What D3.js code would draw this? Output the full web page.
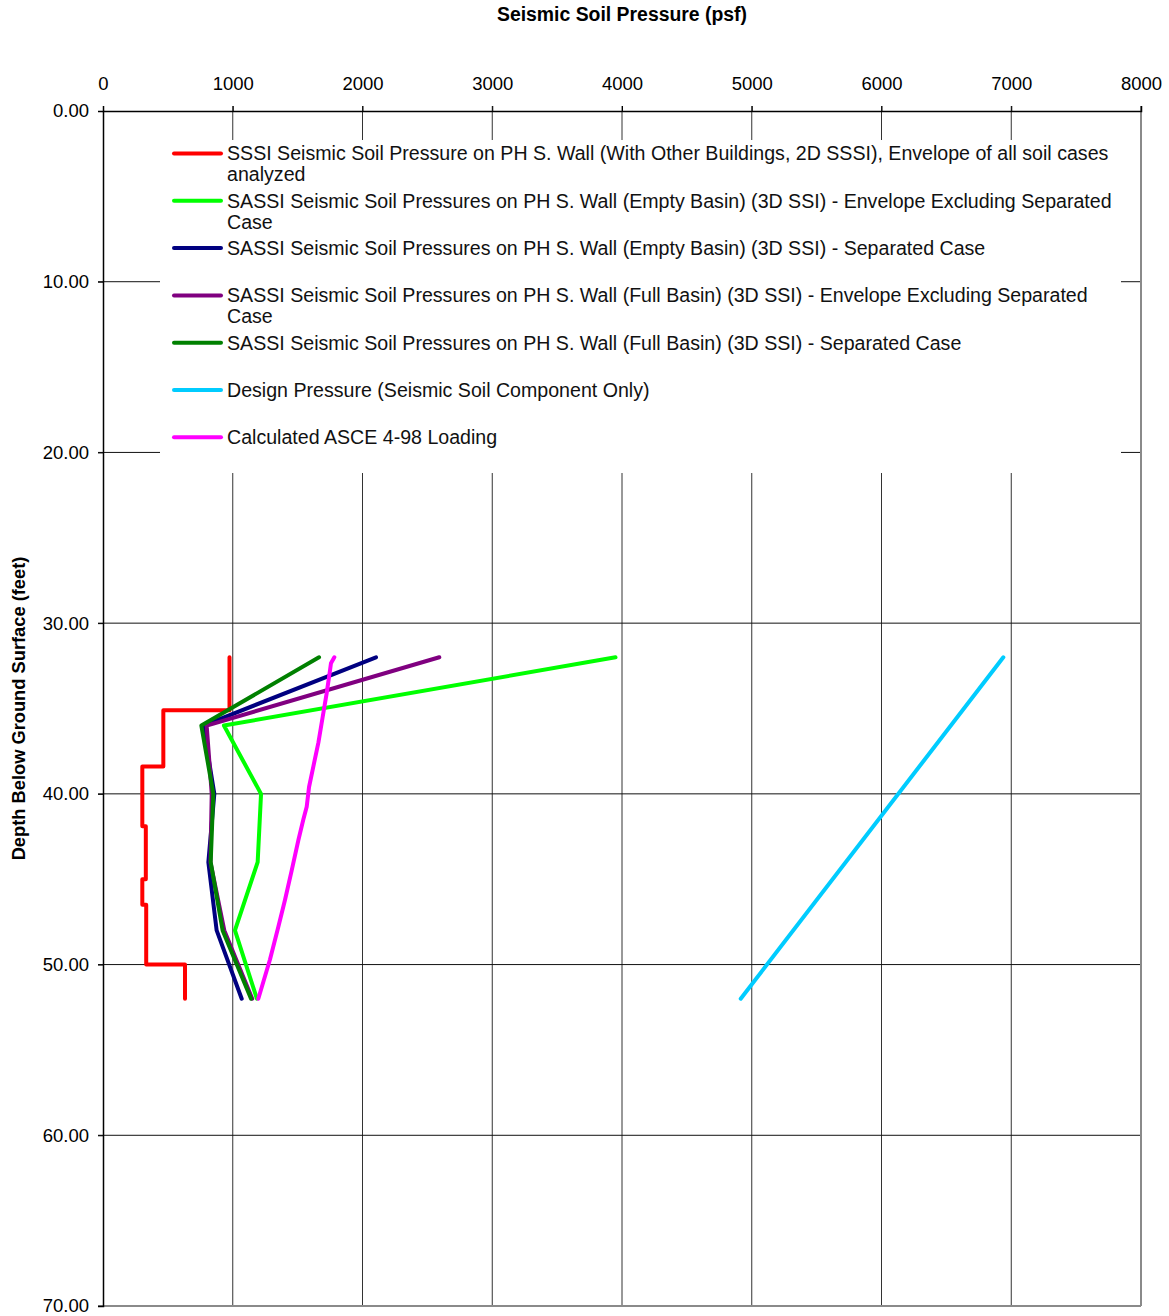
<!DOCTYPE html>
<html>
<head>
<meta charset="utf-8">
<script src="https://cdn.jsdelivr.net/npm/d3@7/dist/d3.min.js"></script>
<style>
  html, body { margin: 0; padding: 0; background: #fff; }
  svg { display: block; font-family: "Liberation Sans", Arial, sans-serif; }
</style>
</head>
<body>
<svg id="chart" width="1169" height="1316"></svg>
<script>
// ---- data ----
const xTicks = [0, 1000, 2000, 3000, 4000, 5000, 6000, 7000, 8000];
const yTicks = [0, 10, 20, 30, 40, 50, 60, 70];

const seriesNames = [
  "SSSI Seismic Soil Pressure on PH S. Wall (With Other Buildings, 2D SSSI), Envelope of all soil cases\nanalyzed",
  "SASSI Seismic Soil Pressures on PH S. Wall (Empty Basin) (3D SSI) - Envelope Excluding Separated\nCase",
  "SASSI Seismic Soil Pressures on PH S. Wall (Empty Basin) (3D SSI) - Separated Case",
  "SASSI Seismic Soil Pressures on PH S. Wall (Full Basin) (3D SSI) - Envelope Excluding Separated\nCase",
  "SASSI Seismic Soil Pressures on PH S. Wall (Full Basin) (3D SSI) - Separated Case",
  "Design Pressure (Seismic Soil Component Only)",
  "Calculated ASCE 4-98 Loading"
];
const seriesColors = ["#FF0000", "#00FF00", "#000080", "#800080", "#008000", "#00CCFF", "#FF00FF"];

// [pressure (psf), depth (ft)]
const sssiWithBuildings = [
  [975, 32], [975, 35.1], [465, 35.1], [465, 38.4], [303, 38.4], [303, 41.9],
  [330, 41.9], [330, 45], [303, 45], [303, 46.5], [333, 46.5], [333, 50],
  [632, 50], [632, 52]
];
const emptyBasinEnvelope = [[3950, 32], [932, 36], [1218, 40], [1192, 44], [1017, 48], [1186, 52]];
const emptyBasinSeparated = [[2104, 32], [773, 36], [858, 40], [812, 44], [876, 48], [1069, 52]];
const fullBasinEnvelope = [[2592, 32], [799, 36], [838, 40], [828, 44], [935, 48], [1150, 52]];
const fullBasinSeparated = [[1665, 32], [758, 36], [850, 40], [830, 44], [922, 48], [1141, 52]];
const designPressure = [[6939, 32], [4915, 52]];
const asceLoading = [
  [1783, 32.0], [1757, 32.35], [1750, 32.75], [1724, 34.1], [1693, 35.5], [1660, 37.0],
  [1621, 38.4], [1588, 39.6], [1570, 40.75], [1544, 41.5], [1506, 42.7], [1454, 44.5],
  [1403, 46.2], [1351, 47.8], [1287, 49.7], [1197, 52.0]
];
const seriesData = [sssiWithBuildings, emptyBasinEnvelope, emptyBasinSeparated,
  fullBasinEnvelope, fullBasinSeparated, designPressure, asceLoading];

// ---- layout ----
const svg = d3.select("#chart");
const L = 103, R = 1141, T = 111, B = 1306;
const x = d3.scaleLinear().domain([0, 8000]).range([L, R]);
const y = d3.scaleLinear().domain([0, 70]).range([T, B]);
const FS = 18.5;

// gridlines
const grid = svg.append("g");
grid.selectAll("line.v").data(xTicks.filter(d => d > 0 && d < 8000)).join("line")
  .attr("x1", d => x(d)).attr("x2", d => x(d)).attr("y1", T - 5).attr("y2", B)
  .attr("stroke", "#333").attr("stroke-width", 1);
grid.selectAll("line.h").data(yTicks.filter(d => d > 0 && d < 70)).join("line")
  .attr("x1", L - 5).attr("x2", R).attr("y1", d => y(d)).attr("y2", d => y(d))
  .attr("stroke", "#111").attr("stroke-width", 1);

// right & bottom border (gray)
svg.append("line").attr("x1", R).attr("x2", R).attr("y1", T - 5).attr("y2", B)
  .attr("stroke", "#8a8a8a").attr("stroke-width", 2);
svg.append("line").attr("x1", L - 5).attr("x2", R).attr("y1", B).attr("y2", B)
  .attr("stroke", "#8a8a8a").attr("stroke-width", 2);

// axes
const xAxis = d3.axisTop(x).tickValues(xTicks).tickFormat(d3.format("d")).tickSize(5).tickPadding(16);
const gx = svg.append("g").attr("transform", `translate(0,${T})`).call(xAxis);
gx.select(".domain").attr("stroke", "#000").attr("stroke-width", 1.5);
gx.selectAll(".tick line").attr("stroke", "#000");
gx.selectAll("text").attr("font-size", FS).attr("fill", "#000")
  .attr("font-family", "'Liberation Sans', Arial, sans-serif");

const yAxis = d3.axisLeft(y).tickValues(yTicks).tickFormat(d3.format(".2f")).tickSize(5).tickPadding(9);
const gy = svg.append("g").attr("transform", `translate(${L},0)`).call(yAxis);
gy.select(".domain").attr("stroke", "#000").attr("stroke-width", 1.5);
gy.selectAll(".tick line").attr("stroke", "#000");
gy.selectAll("text").attr("font-size", FS).attr("fill", "#000")
  .attr("font-family", "'Liberation Sans', Arial, sans-serif");

// titles
svg.append("text").attr("x", (L + R) / 2).attr("y", 21).attr("text-anchor", "middle")
  .attr("font-weight", "bold").attr("font-size", 19.4).text("Seismic Soil Pressure (psf)");
svg.append("text").attr("transform", `translate(25,${(557 + 860) / 2}) rotate(-90)`)
  .attr("text-anchor", "middle").attr("font-weight", "bold").attr("font-size", 18.3)
  .text("Depth Below Ground Surface (feet)");

// legend box
const leg = svg.append("g");
leg.append("rect").attr("x", 160).attr("y", 140).attr("width", 961).attr("height", 333).attr("fill", "#fff");
const legItems = leg.selectAll("g.item").data(seriesNames).join("g")
  .attr("transform", (d, i) => `translate(0,${153.5 + i * 47.3})`);
legItems.append("line").attr("x1", 174).attr("x2", 221).attr("y1", 0).attr("y2", 0)
  .attr("stroke", (d, i) => seriesColors[i]).attr("stroke-width", 4).attr("stroke-linecap", "round");
legItems.append("text").attr("x", 227).attr("y", 0).attr("font-size", 19.6).attr("fill", "#111")
  .each(function (d) {
    const t = d3.select(this);
    d.split("\n").forEach((line, k) => {
      t.append("tspan").attr("x", 227).attr("y", k * 21).attr("dy", "0.35em").text(line);
    });
  });

// data lines
const lineGen = d3.line().x(d => x(d[0])).y(d => y(d[1]));
svg.append("g").selectAll("path").data(seriesData).join("path")
  .attr("d", lineGen).attr("fill", "none")
  .attr("stroke", (d, i) => seriesColors[i]).attr("stroke-width", 4)
  .attr("stroke-linejoin", "round").attr("stroke-linecap", "round");
</script>
</body>
</html>
